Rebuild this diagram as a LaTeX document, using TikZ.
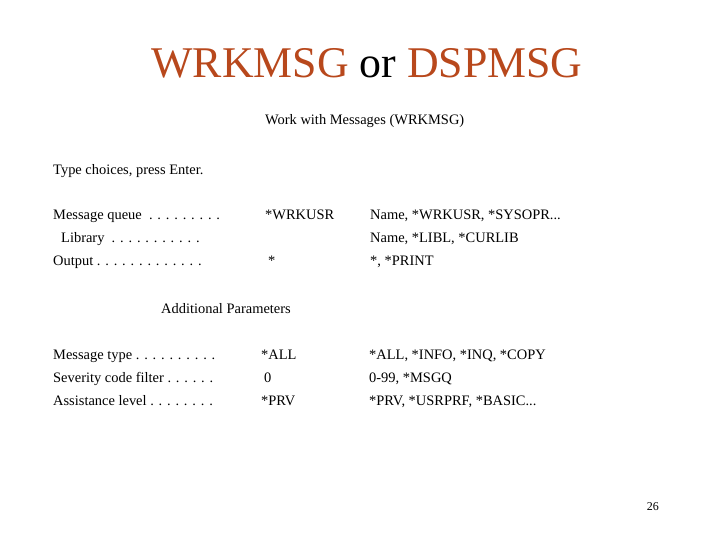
\documentclass[tikz,border=0pt]{standalone}
\usepackage{fontspec}
\setmainfont{Liberation Serif}
\definecolor{ttl}{RGB}{184,72,28}
\begin{document}
\begin{tikzpicture}[x=1bp,y=-1bp,
  t/.style={anchor=base west,inner sep=0,font=\fontsize{14.5}{16}\selectfont}]
\useasboundingbox (0,0) rectangle (720,540);
\node[anchor=base,inner sep=0,font=\fontsize{44}{48}\selectfont] (title) at (367,78)
  {\textcolor{ttl}{WRKMSG} or \textcolor{ttl}{DSPMSG}};
\node[t] (h) at (265,125) {Work with Messages (WRKMSG)};
\node[t] (tc) at (53,175) {Type choices, press Enter.};
\node[t] (a1) at (53,220) {Message queue \ . . . . . . . . .};
\node[t] (a2) at (61,243) {Library \ . . . . . . . . . . .};
\node[t] (a3) at (53,266) {Output . . . . . . . . . . . . .};
\node[t] (b1) at (265,220) {*WRKUSR};
\node[t] (b3) at (268,266) {*};
\node[t] (c1) at (370,220) {Name, *WRKUSR, *SYSOPR...};
\node[t] (c2) at (370,243) {Name, *LIBL, *CURLIB};
\node[t] (c3) at (370,266) {*, *PRINT};
\node[t] (ap) at (161,313) {Additional Parameters};
\node[t] (d1) at (53,359) {Message type . . . . . . . . . .};
\node[t] (d2) at (53,382) {Severity code filter . . . . . .};
\node[t] (d3) at (53,405) {Assistance level . . . . . . . .};
\node[t] (e1) at (261,359) {*ALL};
\node[t] (e2) at (264,382) {0};
\node[t] (e3) at (261,405) {*PRV};
\node[t] (f1) at (369,359) {*ALL, *INFO, *INQ, *COPY};
\node[t] (f2) at (369,382) {0-99, *MSGQ};
\node[t] (f3) at (369,405) {*PRV, *USRPRF, *BASIC...};
\node[anchor=base east,inner sep=0,font=\fontsize{12}{14}\selectfont] (pg) at (659,510) {26};
\end{tikzpicture}
\end{document}
